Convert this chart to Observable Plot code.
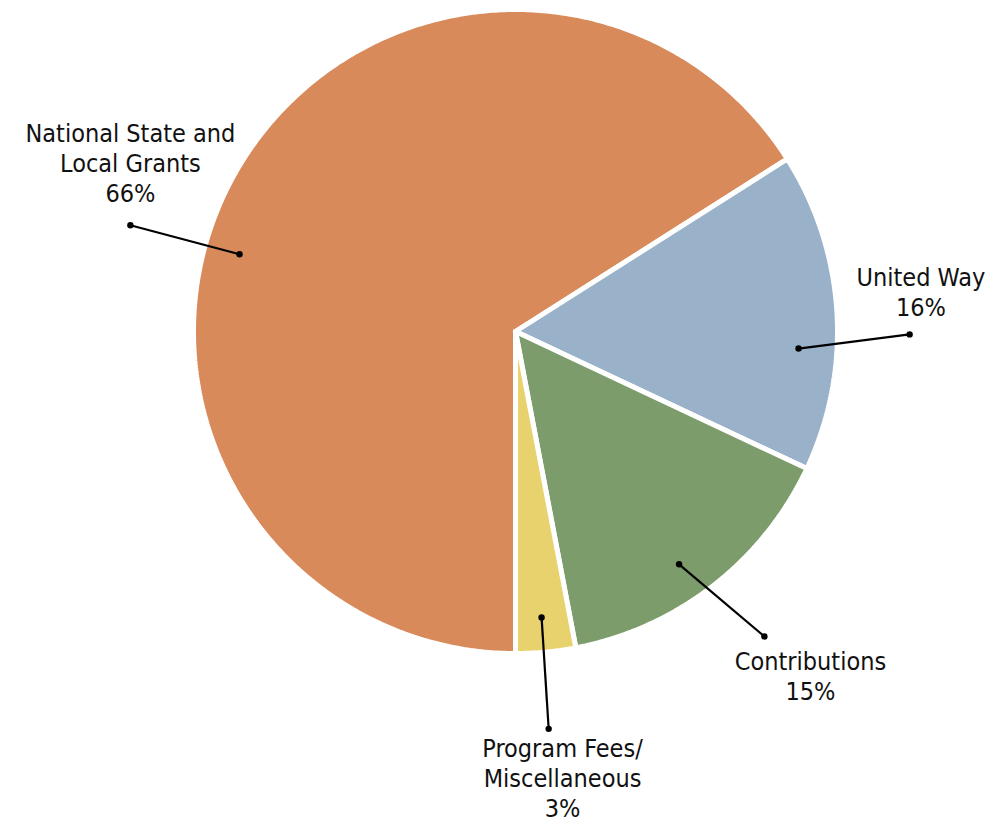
<!DOCTYPE html>
<html>
<head>
<meta charset="utf-8">
<script src="https://cdn.jsdelivr.net/npm/d3@7"></script>
<script src="https://cdn.jsdelivr.net/npm/@observablehq/plot@0.6"></script>
<style>
  html, body { margin: 0; padding: 0; background: #fff; }
  #chart svg { display: block; }
</style>
</head>
<body>
<div id="chart"></div>
<script>
// ---- data ----
const categories = ["National State and\nLocal Grants", "United Way", "Contributions", "Program Fees/\nMiscellaneous"];
const keys = ["National", "United Way", "Contributions", "Program Fees"];
const values = [66, 16, 15, 3];
const colors = ["#D88A5A", "#9AB2C9", "#7C9C6B", "#E8D26E"];

// ---- label layout (unit-circle coordinates) ----
const labelX = [-1.196, 1.259, 0.916, 0.146];
const labelY = [0.526, 0.125, -1.069, -1.384];
const innerX = [-0.857, 0.879, 0.508, 0.081];
const innerY = [0.240, -0.053, -0.723, -0.888];
const outerX = [-1.196, 1.224, 0.773, 0.103];
const outerY = [0.330, -0.009, -0.947, -1.234];

// ---- build slices ----
const W = 1003, H = 824, cx = 515, cy = 331, R = 322;
const total = d3.sum(values);
const startAngle = Math.PI; // start at bottom, clockwise
const slicePts = [];
let a0 = startAngle;
values.forEach((v, i) => {
  const a1 = a0 + (v / total) * 2 * Math.PI;
  slicePts.push({key: keys[i], x: 0, y: 0});
  const n = Math.max(4, Math.ceil((a1 - a0) / 0.01));
  for (let k = 0; k <= n; k++) {
    const a = a0 + (a1 - a0) * k / n;
    slicePts.push({key: keys[i], x: Math.sin(a), y: Math.cos(a)});
  }
  slicePts.push({key: keys[i], x: 0, y: 0});
  a0 = a1;
});

const labels = categories.map((c, i) => ({
  text: c + "\n" + values[i] + "%",
  x: labelX[i], y: labelY[i],
  x1: innerX[i], y1: innerY[i], x2: outerX[i], y2: outerY[i]
}));
const dots = labels.flatMap(d => [{x: d.x1, y: d.y1}, {x: d.x2, y: d.y2}]);

const plot = Plot.plot({
  width: W, height: H,
  margin: 0,
  x: {domain: [-cx / R, (W - cx) / R], range: [0, W], axis: null},
  y: {domain: [-(H - cy) / R, cy / R], range: [H, 0], axis: null},
  color: {domain: keys, range: colors},
  style: {fontFamily: "'Liberation Sans Narrow', 'DejaVu Sans Condensed', sans-serif", background: "#fff"},
  marks: [
    Plot.line(slicePts, {x: "x", y: "y", z: "key", fill: "key", stroke: "#fff", strokeWidth: 5, strokeLinejoin: "miter", curve: "linear"}),
    Plot.link(labels, {x1: "x1", y1: "y1", x2: "x2", y2: "y2", stroke: "#000", strokeWidth: 2.2}),
    Plot.dot(dots, {x: "x", y: "y", r: 3.2, fill: "#000"}),
    Plot.text(labels, {x: "x", y: "y", text: "text", fontSize: 25, lineHeight: 1.2, textAnchor: "middle", lineAnchor: "middle", fill: "#111"})
  ]
});
document.getElementById("chart").appendChild(plot);
</script>
</body>
</html>
